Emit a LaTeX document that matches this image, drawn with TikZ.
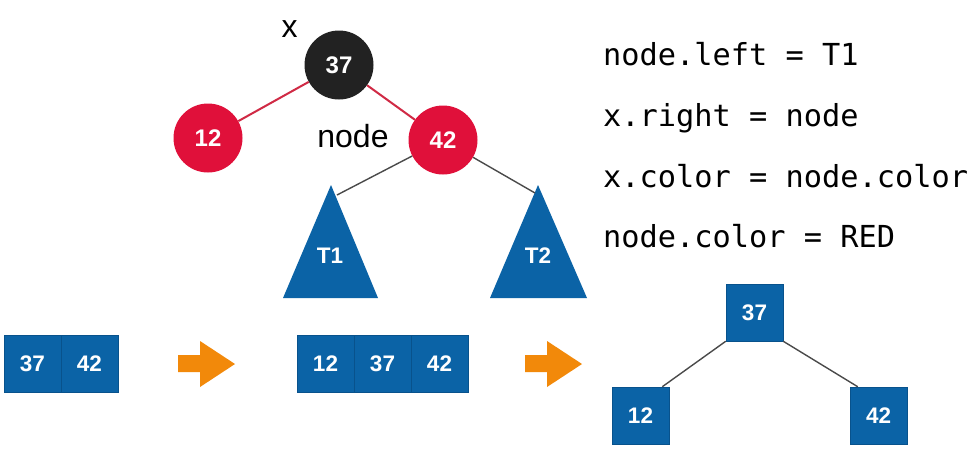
\documentclass[tikz,border=0pt]{standalone}
\usepackage{fontspec}
\setmainfont{Liberation Sans}
\newfontfamily\codef{DejaVu Sans Mono}
\usetikzlibrary{calc}
\definecolor{rbred}{HTML}{E0103A}
\definecolor{rbedge}{HTML}{D02A45}
\definecolor{rbblack}{HTML}{222222}
\definecolor{tblue}{HTML}{0B63A6}
\definecolor{tbluedark}{HTML}{08528C}
\definecolor{arrorange}{HTML}{F2890A}
\definecolor{linegray}{HTML}{4A4A4A}
\tikzset{
  rbnode/.style={circle, minimum size=69pt, inner sep=0pt, text=white,
    font=\fontsize{24}{24}\selectfont\bfseries},
  rednode/.style={rbnode, fill=rbred},
  blacknode/.style={rbnode, fill=rbblack},
  cell/.style={rectangle, minimum size=57pt, inner sep=0pt, fill=tblue,
    draw=tbluedark, line width=0.5pt, text=white,
    font=\fontsize{22.5}{22.5}\selectfont\bfseries},
  redge/.style={draw=rbedge, line width=2pt},
  gedge/.style={draw=linegray, line width=1.4pt},
  label/.style={anchor=base, inner sep=0pt, font=\fontsize{32}{32}\selectfont},
  code/.style={anchor=base west, inner sep=0pt, font=\codef\fontsize{30.3}{30.3}\selectfont},
  tri/.style={fill=tblue},
  trilabel/.style={text=white, inner sep=0pt, font=\fontsize{22.5}{22.5}\selectfont\bfseries},
  blockarrow/.style={fill=arrorange}
}
\begin{document}
\begin{tikzpicture}[x=1pt,y=-1pt]
\useasboundingbox (0,0) rectangle (973,456);
\fill[white] (0,0) rectangle (973,456);

% red-black tree
\node[blacknode] (n37) at (339,65) {37};
\node[rednode] (n12) at (208,138) {12};
\node[rednode] (n42) at (443,140) {42};
\node[label] (lx) at (289.5,37) {x};
\node[label] (lnode) at (353,147) {node};
\draw[redge] (n37) -- (n12);
\draw[redge] (n37) -- (n42);

% subtrees
\coordinate (t1a) at (331,185);
\coordinate (t1l) at (283,298);
\coordinate (t1r) at (378,298);
\coordinate (t2a) at (538,185);
\coordinate (t2l) at (490,298);
\coordinate (t2r) at (587,298);
\fill[tri] (t1a) -- (t1l) -- (t1r) -- cycle;
\fill[tri] (t2a) -- (t2l) -- (t2r) -- cycle;
\node[trilabel] (T1) at (330,256) {T1};
\node[trilabel] (T2) at (538,256) {T2};
\coordinate (t1c) at (337,195);
\coordinate (t2c) at (535,193);
\draw[gedge] (n42) -- (t1c);
\draw[gedge] (n42) -- (t2c);

% code
\node[code] (c1) at (603,65) {node.left = T1};
\node[code] (c2) at (603,126) {x.right = node};
\node[code] (c3) at (603,187) {x.color = node.color};
\node[code] (c4) at (603,247) {node.color = RED};

% arrays
\node[cell] (a37) at (32.5,363.5) {37};
\node[cell] (a42) at (89.5,363.5) {42};
\node[cell] (b12) at (325.5,363.5) {12};
\node[cell] (b37) at (382.5,363.5) {37};
\node[cell] (b42) at (439.5,363.5) {42};

% orange arrows
\fill[blockarrow] (178,355) -- (200,355) -- (200,341) -- (235,364) -- (200,387) -- (200,372) -- (178,372) -- cycle;
\fill[blockarrow] (525,355) -- (547,355) -- (547,341) -- (582,364) -- (547,387) -- (547,372) -- (525,372) -- cycle;

% resulting tree
\node[cell] (r37) at (754.5,312.5) {37};
\node[cell] (r12) at (640.5,415.5) {12};
\node[cell] (r42) at (878.5,415.5) {42};
\draw[gedge] (r37.south west) -- ($(r12.north east)+(-7,0)$);
\draw[gedge] (r37.south east) -- ($(r42.north west)+(8,0)$);
\end{tikzpicture}
\end{document}
